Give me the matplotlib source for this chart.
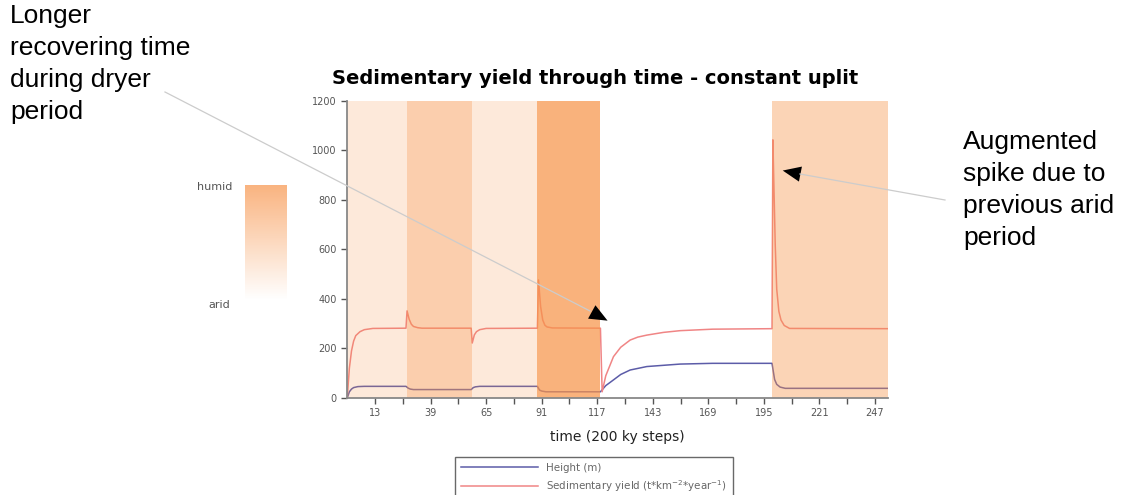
import numpy as np
import matplotlib.pyplot as plt

# time steps and sediment yield
t_sed = [0, 1, 2, 3, 4, 6, 8, 12, 27.5,
         28, 29, 30, 31, 33, 35, 58,
         58.5, 59.5, 60.5, 62, 65, 89,
         89.5, 90.5, 91.5, 92.5, 93.5, 96, 118.5,
         119.3, 121, 124.6, 128, 132.4, 136, 140.2, 148, 155.8, 171, 198.8,
         199.2, 199.7, 200.3, 201, 202, 203, 204.5, 207, 253]
sed = [0, 120, 190, 230, 252, 268, 276, 281, 282,
       352, 318, 298, 289, 284, 282, 282,
       222, 255, 268, 276, 281, 282,
       477, 370, 315, 294, 287, 283, 282,
       25, 90, 167, 205, 234, 246, 254, 265, 272, 278, 280,
       1043, 850, 620, 440, 350, 315, 293, 281, 280]

t_h = [0, 1, 2, 3, 5, 8, 27.5,
       28.5, 29.5, 31, 58,
       59, 60, 62, 89,
       90, 91, 93, 118.5,
       121, 124.6, 128, 132.4, 140.2, 155.8, 171, 198.8,
       200, 201, 202.6, 205, 253]
height = [0, 25, 36, 42, 46, 47, 47,
          40, 36, 34, 34,
          42, 45, 47, 47,
          32, 28, 25, 25,
          50, 73, 95, 113, 127, 137, 140, 140,
          75, 55, 44, 39, 39]

# climate periods: start, end, shading strength
band_start = [0, 28, 58.5, 89, 198.8]
band_end = [28, 58.5, 89, 118.5, 253]
band_alpha = [0.2, 0.45, 0.2, 0.72, 0.4]

fig = plt.figure(figsize=(11.31, 4.95), dpi=100)
ax = fig.add_axes([0.307, 0.196, 0.478, 0.600])

ax.plot(t_h, height, color="#5c5ca8", lw=1.1, label="Height (m)")
ax.plot(t_sed, sed, color="#f08585", lw=1.1, label="Sedimentary yield (t*km$^{-2}$*year$^{-1}$)")
for s, e, a in zip(band_start, band_end, band_alpha):
    ax.axvspan(s, e, color="#f7944a", alpha=a, lw=0, zorder=3)

ax.set_xlim(0, 253)
ax.set_ylim(0, 1200)
ax.set_yticks(range(0, 1201, 200))
xt = np.arange(13, 253, 13)
ax.set_xticks(xt)
ax.set_xticklabels([str(v) if (v // 13) % 2 == 1 else "" for v in xt])
ax.tick_params(labelsize=7, colors="#555555", length=4, width=1)
for s in ["top", "right"]:
    ax.spines[s].set_visible(False)
for s in ["left", "bottom"]:
    ax.spines[s].set_color("#888888")
    ax.spines[s].set_linewidth(1.3)
    ax.spines[s].set_zorder(4)
ax.set_title("Sedimentary yield through time - constant uplit", fontsize=14,
             fontweight="bold", pad=12, x=0.458)
ax.set_xlabel("time (200 ky steps)", fontsize=10, color="#222222", labelpad=8)

fig.legend(loc="upper center", bbox_to_anchor=(0.525, 0.088), fontsize=7.4,
           frameon=True, fancybox=False, edgecolor="#444444", borderpad=0.6,
           handlelength=7.5, labelcolor="#666666")

# humid / arid colour key
cax = fig.add_axes([0.2166, 0.394, 0.037, 0.232])
grad = np.linspace(1, 0, 100).reshape(-1, 1)
rgba = np.ones((100, 1, 4))
rgba[..., :3] = [0.97, 0.58, 0.29]
rgba[..., 3] = grad * 0.7
cax.imshow(rgba, aspect="auto")
cax.axis("off")
fig.text(232 / 1131, 1 - 187 / 495, "humid", ha="right", va="center", fontsize=8, color="#555555")
fig.text(230 / 1131, 1 - 305 / 495, "arid", ha="right", va="center", fontsize=8, color="#555555")

# annotations
fig.text(10 / 1131, 1 - 4 / 495, "Longer\nrecovering time\nduring dryer\nperiod",
         ha="left", va="top", fontsize=19, family="Liberation Sans", linespacing=1.42)
fig.text(963 / 1131, 1 - 130 / 495, "Augmented\nspike due to\nprevious arid\nperiod",
         ha="left", va="top", fontsize=19, family="Liberation Sans", linespacing=1.42)

def arrow(start, tip, back):
    s = (start[0], 495 - start[1])
    t = (tip[0], 495 - tip[1])
    b = (back[0], 495 - back[1])
    fig.add_artist(plt.Line2D([s[0] / 1131, b[0] / 1131], [s[1] / 495, b[1] / 495],
                              color="#cccccc", lw=0.9))
    ax.annotate("", xy=t, xytext=b, xycoords="figure pixels", textcoords="figure pixels",
                arrowprops=dict(arrowstyle="-|>,head_length=1.3,head_width=0.55",
                                color="black", lw=0), zorder=6)

arrow((165, 92), (610, 322), (590, 311))
arrow((945, 200), (780, 170), (800, 174))

plt.savefig("out.png", dpi=100)
